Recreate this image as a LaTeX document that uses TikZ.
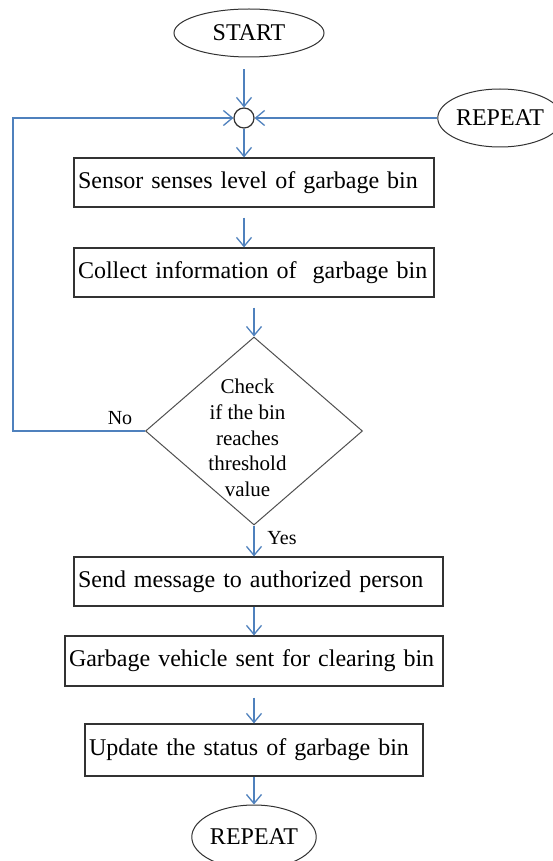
\documentclass[tikz,border=0pt]{standalone}
\usepackage{fontspec}
\setmainfont{Liberation Serif}
\usetikzlibrary{shapes.geometric,arrows.meta}
\definecolor{flowblue}{RGB}{79,129,189}
\definecolor{edgegray}{RGB}{50,50,50}
\definecolor{diagray}{RGB}{80,80,80}
\begin{document}
\begin{tikzpicture}[x=1pt,y=-1pt,
  boxnode/.style={draw=edgegray,line width=1.2pt,minimum height=49pt,inner xsep=4pt,inner ysep=0pt,align=left,font=\fontsize{24}{26}\selectfont},
  termnode/.style={ellipse,draw=edgegray,line width=1pt,inner sep=0pt,font=\fontsize{24}{28}\selectfont},
  flow/.style={draw=flowblue,line width=1.3pt,-{Straight Barb[length=9pt,width=15pt,line width=1.3pt]}},
  lbl/.style={font=\fontsize{20}{24}\selectfont,inner sep=0pt}
]
\useasboundingbox[fill=white] (0,0) rectangle (552,861);

\node[termnode,minimum width=150pt,minimum height=48pt] (start) at (249,33) {START};
\node[circle,draw=edgegray,line width=1.2pt,minimum size=20pt,inner sep=0pt] (junc) at (244,118) {};
\node[termnode,minimum width=116pt,minimum height=58pt] (rep1) at (500,118) {REPEAT};
\node[boxnode,text width=352pt] (b1) at (254,182.5) {Sensor senses level of garbage bin};
\node[boxnode,text width=352pt] (b2) at (254,272.5) {Collect information of\ \ garbage bin};
\node[diamond,draw=diagray,line width=1pt,minimum width=217pt,minimum height=188pt,inner sep=0pt] (check) at (254,431) {};
\node[lbl,align=center,font=\fontsize{21}{25.7}\selectfont] (checktxt) at (247.5,438) {Check\\if the bin\\reaches\\threshold\\value};
\node[boxnode,text width=361pt] (b3) at (258.5,581.5) {Send message to authorized person};
\node[boxnode,text width=370pt,minimum height=50pt] (b4) at (254,661) {Garbage vehicle sent for clearing bin};
\node[boxnode,text width=330pt,minimum height=52pt] (b5) at (254,750) {Update the status of garbage bin};
\node[termnode,minimum width=121pt,minimum height=64pt] (rep2) at (254,837) {REPEAT};
\node[lbl] (no) at (120,418) {No};
\node[lbl] (yes) at (282,538) {Yes};
\coordinate (lc) at (13,118);

\draw[flow,shorten <=12pt] (junc |- start.south) -- (junc.north);
\draw[flow] (rep1.west) -- (junc.east);
\draw[flow] (check.west) -| (lc) -- (junc.west);
\draw[flow] (junc.south) -- (junc |- b1.north);
\draw[flow,shorten <=10pt] (junc |- b1.south) -- (junc |- b2.north);
\draw[flow,shorten <=10pt] (b2.south) -- (check.north);
\draw[flow] (check.south) -- (check |- b3.north);
\draw[flow] (check |- b3.south) -- (check |- b4.north);
\draw[flow,shorten <=11pt] (b4.south) -- (b5.north);
\draw[flow] (b5.south) -- (rep2.north);
\end{tikzpicture}
\end{document}
